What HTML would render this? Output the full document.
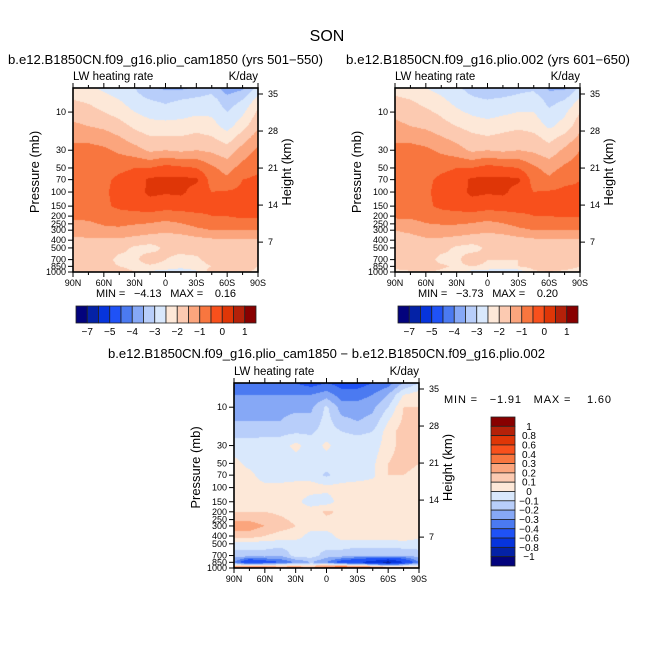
<!DOCTYPE html>
<html><head><meta charset="utf-8">
<style>
html,body{margin:0;padding:0;background:#fff;}
#wrap{position:relative;width:654px;height:654px;overflow:hidden;font-family:"Liberation Sans",sans-serif;}
canvas{position:absolute;}
svg{position:absolute;left:0;top:0;}
text{font-family:"Liberation Sans",sans-serif;fill:#000;}
.pre{white-space:pre;}
</style></head>
<body>
<div id="wrap">
<canvas id="c1" width="185" height="184" style="left:73px;top:88px"></canvas>
<canvas id="c2" width="185" height="184" style="left:395px;top:88px"></canvas>
<canvas id="c3" width="185" height="185" style="left:234px;top:383px"></canvas>
<svg id="ov" width="654" height="654"></svg>
</div>
<script>
// ---- data ----
const lats = [90,75,60,45,30,15,0,-15,-30,-45,-60,-75,-90];
const pres = [5,7,10,15,20,30,50,70,100,150,200,300,400,500,700,850,1000];
const levelsAbs = [-7,-6,-5,-4.5,-4,-3.5,-3,-2.5,-2,-1.5,-1,-0.5,0,0.5,1];
const levelsDiff = [-1,-0.8,-0.6,-0.4,-0.3,-0.2,-0.1,0,0.1,0.2,0.3,0.4,0.6,0.8,1];
const absLabels = ["−7","−5","−4","−3","−2","−1","0","1"];
const diffLabels = ["1","0.8","0.6","0.4","0.3","0.2","0.1","0","−0.1","−0.2","−0.3","−0.4","−0.6","−0.8","−1"];
const colors = ["#03037d","#0422a6","#0634dc","#1f52f6","#4b7af1","#86a8f6","#b8cefa","#d9e8fc","#fde8d8","#fccab1","#fba57d","#f8763f","#f8501c","#df3607","#b42109","#880000"];
const pTicks = [10,30,50,70,100,150,200,250,300,400,500,700,850,1000];
const zTicks = [7,14,21,28,35];
const latTicks = [90,60,30,0,-30,-60,-90];

const field1 = [
[-2.3,-2.4,-2.6,-2.8,-3.0,-3.4,-3.6,-3.6,-3.4,-3.2,-3.8,-3.6,-2.8],
[-2.0,-2.1,-2.3,-2.5,-2.8,-3.0,-3.1,-3.0,-2.9,-2.8,-3.3,-3.0,-2.3],
[-1.7,-1.8,-2.0,-2.2,-2.5,-2.7,-2.8,-2.7,-2.6,-2.6,-3.0,-2.6,-1.9],
[-1.4,-1.5,-1.6,-1.8,-2.1,-2.3,-2.3,-2.3,-2.2,-2.3,-2.7,-2.2,-1.6],
[-1.2,-1.2,-1.3,-1.5,-1.8,-2.0,-2.0,-2.0,-1.9,-2.0,-2.3,-1.8,-1.3],
[-0.8,-0.8,-0.9,-1.1,-1.3,-1.6,-1.5,-1.6,-1.5,-1.6,-1.8,-1.3,-0.9],
[-0.7,-0.7,-0.7,-0.6,-0.5,-0.5,-0.3,-0.4,-0.5,-0.9,-1.2,-0.8,-0.6],
[-0.7,-0.7,-0.6,-0.4,-0.3,0.1,0.1,0.1,0.1,-0.7,-0.9,-0.5,-0.4],
[-0.7,-0.7,-0.6,-0.3,-0.2,0.1,0.05,0.1,-0.2,-0.5,-0.45,-0.4,-0.4],
[-0.8,-0.7,-0.6,-0.4,-0.3,-0.2,-0.3,-0.3,-0.3,-0.4,-0.4,-0.4,-0.4],
[-0.9,-0.9,-0.8,-0.7,-0.7,-0.7,-0.8,-0.7,-0.6,-0.5,-0.5,-0.4,-0.4],
[-1.3,-1.2,-1.1,-1.1,-1.2,-1.3,-1.4,-1.3,-1.1,-1.0,-1.0,-1.0,-1.0],
[-1.6,-1.6,-1.6,-1.6,-1.7,-1.8,-1.8,-1.8,-1.7,-1.6,-1.6,-1.6,-1.6],
[-1.7,-1.7,-1.7,-1.8,-2.1,-2.2,-1.9,-1.9,-1.8,-1.8,-1.7,-1.6,-1.7],
[-1.7,-1.7,-1.7,-2.2,-2.1,-1.7,-2.0,-2.1,-2.1,-1.8,-1.8,-2.0,-1.9],
[-1.7,-1.7,-1.8,-2.0,-2.2,-2.1,-2.2,-2.3,-2.2,-2.0,-1.8,-1.8,-2.0],
[-2.1,-1.7,-1.6,-1.7,-2.0,-2.6,-2.7,-2.9,-2.6,-1.7,-1.6,-1.9,-2.1]];

const field2 = [
[-2.2,-2.3,-2.5,-2.7,-2.9,-3.2,-3.4,-3.4,-3.2,-3.1,-3.6,-3.6,-2.9],
[-1.9,-2.0,-2.2,-2.4,-2.7,-2.9,-3.0,-2.9,-2.8,-2.7,-3.2,-3.0,-2.4],
[-1.6,-1.7,-1.9,-2.1,-2.4,-2.6,-2.7,-2.6,-2.5,-2.5,-2.9,-2.6,-2.0],
[-1.4,-1.5,-1.6,-1.8,-2.0,-2.2,-2.3,-2.2,-2.1,-2.2,-2.6,-2.3,-1.7],
[-1.2,-1.2,-1.3,-1.5,-1.7,-1.9,-2.0,-1.9,-1.8,-1.9,-2.2,-1.9,-1.4],
[-0.8,-0.8,-0.9,-1.1,-1.3,-1.6,-1.5,-1.6,-1.5,-1.6,-1.8,-1.4,-1.0],
[-0.7,-0.7,-0.7,-0.6,-0.5,-0.5,-0.3,-0.4,-0.5,-0.9,-1.2,-0.9,-0.7],
[-0.7,-0.7,-0.6,-0.4,-0.3,0.1,0.1,0.1,0.1,-0.7,-0.9,-0.6,-0.5],
[-0.7,-0.7,-0.6,-0.3,-0.2,0.1,0.05,0.1,-0.2,-0.5,-0.45,-0.4,-0.45],
[-0.8,-0.7,-0.6,-0.4,-0.3,-0.2,-0.3,-0.3,-0.3,-0.4,-0.4,-0.45,-0.45],
[-0.9,-0.9,-0.8,-0.7,-0.7,-0.7,-0.8,-0.7,-0.6,-0.5,-0.5,-0.45,-0.45],
[-1.5,-1.4,-1.2,-1.2,-1.2,-1.3,-1.4,-1.3,-1.1,-1.0,-1.0,-1.0,-1.0],
[-1.7,-1.7,-1.6,-1.6,-1.7,-1.8,-1.8,-1.8,-1.7,-1.6,-1.6,-1.6,-1.6],
[-1.7,-1.7,-1.7,-1.8,-2.1,-2.2,-1.9,-1.9,-1.8,-1.8,-1.7,-1.6,-1.7],
[-1.7,-1.7,-1.7,-2.2,-2.1,-1.7,-2.0,-2.0,-2.0,-1.8,-1.8,-2.0,-1.9],
[-1.6,-1.6,-1.7,-1.9,-2.1,-2.0,-2.1,-2.1,-2.0,-1.8,-1.7,-1.8,-2.0],
[-2.4,-2.1,-2.0,-2.1,-2.3,-2.7,-2.8,-3.0,-2.9,-2.1,-2.0,-2.1,-2.2]];

const fieldDiff = [
[-0.35,-0.35,-0.35,-0.35,-0.4,-0.45,-0.4,-0.45,-0.45,-0.4,-0.35,-0.2,-0.1],
[-0.3,-0.3,-0.3,-0.3,-0.3,-0.3,-0.25,-0.35,-0.35,-0.3,-0.2,0.0,0.05],
[-0.25,-0.25,-0.22,-0.22,-0.22,-0.22,-0.08,-0.25,-0.25,-0.22,-0.1,0.1,0.1],
[-0.2,-0.2,-0.2,-0.2,-0.17,-0.17,-0.06,-0.17,-0.2,-0.17,0.0,0.12,0.15],
[-0.15,-0.15,-0.13,-0.13,-0.12,-0.12,-0.05,-0.1,-0.12,-0.1,0.05,0.15,0.15],
[-0.05,-0.05,-0.05,-0.05,0.03,-0.05,0.02,-0.05,-0.05,-0.05,0.05,0.15,0.15],
[0.03,-0.03,-0.05,-0.05,-0.05,-0.05,-0.05,-0.05,-0.05,-0.02,0.1,0.15,0.1],
[0.05,0.03,-0.05,-0.05,-0.05,-0.05,-0.12,-0.05,-0.05,-0.02,0.1,0.1,0.05],
[0.05,0.05,0.03,0.03,0.05,0.05,0.03,0.03,0.05,0.05,0.05,0.05,0.05],
[0.05,0.05,0.05,0.05,0.03,-0.05,-0.05,0.05,0.05,0.05,0.05,0.05,0.05],
[0.1,0.1,0.1,0.08,0.05,0.05,0.12,0.08,0.1,0.1,0.1,0.05,0.05],
[0.25,0.25,0.2,0.15,0.1,0.05,0.05,0.05,0.05,0.05,0.05,0.05,0.05],
[0.15,0.15,0.1,0.05,0.05,-0.05,-0.05,0.05,0.05,0.05,0.05,0.05,0.03],
[-0.05,-0.05,-0.05,-0.05,-0.05,-0.05,-0.05,-0.05,-0.05,-0.05,-0.05,-0.03,-0.05],
[-0.15,-0.15,-0.15,-0.2,-0.05,-0.05,-0.15,-0.15,-0.2,-0.2,-0.2,-0.2,-0.15],
[-0.3,-0.6,-0.5,-0.4,-0.3,-0.2,-0.3,-0.5,-0.6,-0.7,-0.9,-0.6,-0.3],
[0.4,0.5,0.5,0.4,0.4,0.3,0.5,0.6,0.6,0.5,0.4,0.3,0.2]];

// ---- drawing ----
const PTOP = 5, PBOT = 1000;
function yFrac(p){ return (Math.log10(p)-Math.log10(PTOP))/(Math.log10(PBOT)-Math.log10(PTOP)); }
function xFrac(lat){ return (90-lat)/180; }
function colorIdx(v, lev){ let i=0; while(i<lev.length && v>=lev[i]) i++; return i; }
function sample(field, lat, p){
  const fx = xFrac(lat)*(lats.length-1);
  const i0 = Math.min(Math.floor(fx), lats.length-2), tx = fx-i0;
  const lp = Math.log10(p);
  let j0 = 0;
  while(j0 < pres.length-2 && Math.log10(pres[j0+1]) < lp) j0++;
  const a = Math.log10(pres[j0]), b = Math.log10(pres[j0+1]);
  const ty = Math.max(0, Math.min(1, (lp-a)/(b-a)));
  const r0 = field[j0], r1 = field[j0+1];
  const v0 = r0[i0]*(1-tx)+r0[i0+1]*tx, v1 = r1[i0]*(1-tx)+r1[i0+1]*tx;
  return v0*(1-ty)+v1*ty;
}
function drawField(id, field, lev){
  const cv = document.getElementById(id), ctx = cv.getContext('2d');
  const W = cv.width, H = cv.height;
  for(let py=0; py<H; py++){
    const p = Math.pow(10, Math.log10(PTOP) + (py+0.5)/H*(Math.log10(PBOT)-Math.log10(PTOP)));
    for(let px=0; px<W; px++){
      const lat = 90 - (px+0.5)/W*180;
      ctx.fillStyle = colors[colorIdx(sample(field, lat, p), lev)];
      ctx.fillRect(px, py, 1, 1);
    }
  }
}
drawField('c1', field1, levelsAbs);
drawField('c2', field2, levelsAbs);
drawField('c3', fieldDiff, levelsDiff);

const NS='http://www.w3.org/2000/svg';
const svg=document.getElementById('ov');
function mk(tag, attrs, txt){
  const e=document.createElementNS(NS,tag);
  for(const k in attrs) e.setAttribute(k, attrs[k]);
  if(txt!==undefined) e.textContent=txt;
  svg.appendChild(e); return e;
}
function latLabel(l){ return l===0?'0':(Math.abs(l)+(l>0?'N':'S')); }

function axes(x0,y0,W,H,pre){
  let e=mk('rect',{x:x0,y:y0,width:W,height:H,fill:'none',stroke:'#000','stroke-width':1.6});
  
  
  for(let l=90; l>=-90; l-=15){
    const x = x0 + xFrac(l)*W;
    const major = (l%30===0);
    mk('line',{x1:x,y1:y0+H,x2:x,y2:y0+H+(major?5:3),stroke:'#000','stroke-width':1});
    mk('line',{x1:x,y1:y0,x2:x,y2:y0-(major?5:3),stroke:'#000','stroke-width':1});
  }
  for(const l of latTicks){
    const t=mk('text',{x:x0+xFrac(l)*W,y:y0+H+14,'font-size':9,'text-anchor':'middle'},latLabel(l));
    
    
  }
  for(const p of pTicks){
    const y=y0+yFrac(p)*H;
    mk('line',{x1:x0,y1:y,x2:x0-5,y2:y,stroke:'#000','stroke-width':1});
    const t=mk('text',{x:x0-7,y:y+3,'font-size':9,'text-anchor':'end'},String(p));
    
    
  }
  for(const z of zTicks){
    const y=y0+6+(35-z)*5.29;
    mk('line',{x1:x0+W,y1:y,x2:x0+W+5,y2:y,stroke:'#000','stroke-width':1});
    const t=mk('text',{x:x0+W+10,y:y+3,'font-size':9},String(z));
    
    
  }
  let t=mk('text',{x:x0,y:y0-8,'font-size':11.5},'LW heating rate');
  
  
  t=mk('text',{x:x0+W,y:y0-8,'font-size':11.5,'text-anchor':'end'},'K/day');
  
  
  const cy=y0+H/2-8;
  t=mk('text',{x:0,y:0,'font-size':13,'text-anchor':'middle',transform:`translate(${x0-34},${cy}) rotate(-90)`},'Pressure (mb)');
  
  
  t=mk('text',{x:0,y:0,'font-size':13,'text-anchor':'middle',transform:`translate(${x0+W+33},${cy}) rotate(-90)`},'Height (km)');
  
  
}
axes(73,88,185,184,'panel1');
axes(395,88,185,184,'panel2');
axes(234,383,185,185,'panel3');

let t=mk('text',{x:327,y:41,'font-size':16,'text-anchor':'middle'},'SON');


t=mk('text',{x:8,y:64,'font-size':12.5,textLength:315,lengthAdjust:'spacingAndGlyphs'},'b.e12.B1850CN.f09_g16.plio_cam1850 (yrs 501−550)');


t=mk('text',{x:346,y:64,'font-size':12.5,textLength:284,lengthAdjust:'spacingAndGlyphs'},'b.e12.B1850CN.f09_g16.plio.002 (yrs 601−650)');


t=mk('text',{x:108,y:358,'font-size':12.5,textLength:437,lengthAdjust:'spacingAndGlyphs'},'b.e12.B1850CN.f09_g16.plio_cam1850 − b.e12.B1850CN.f09_g16.plio.002');


t=mk('text',{x:96,y:297,'font-size':11,'class':'pre',textLength:140,lengthAdjust:'spacing'},'MIN =   −4.13   MAX =    0.16');


t=mk('text',{x:418,y:297,'font-size':11,'class':'pre',textLength:140,lengthAdjust:'spacing'},'MIN =   −3.73   MAX =    0.20');


t=mk('text',{x:444,y:403,'font-size':11,'class':'pre',textLength:167,lengthAdjust:'spacing'},'MIN =   −1.91   MAX =    1.60');



function hbar(x0,y0,W,H,pre){
  const bw=W/colors.length;
  colors.forEach((c,i)=>{
    const r=mk('rect',{x:x0+i*bw,y:y0,width:bw,height:H,fill:c,stroke:'#222','stroke-width':0.8});
    
    
  });
  absLabels.forEach((s,k)=>{
    const b=1+2*k;
    const l=mk('text',{x:x0+b*bw,y:y0+H+12,'font-size':10,'text-anchor':'middle'},s);
    
    
  });
}
hbar(76,306,180,17,'panel1');
hbar(398,306,180,17,'panel2');

(function(){
  const x0=491,y0=417,W=24,H=149,bh=H/colors.length;
  for(let i=0;i<colors.length;i++){
    const r=mk('rect',{x:x0,y:y0+i*bh,width:W,height:bh,fill:colors[colors.length-1-i],stroke:'#222','stroke-width':0.8});
    
    
  }
  diffLabels.forEach((s,k)=>{
    const l=mk('text',{x:529,y:y0+(k+1)*bh+3.5,'font-size':10,'text-anchor':'middle'},s);
    
    
  });
})();
</script>
</body></html>
